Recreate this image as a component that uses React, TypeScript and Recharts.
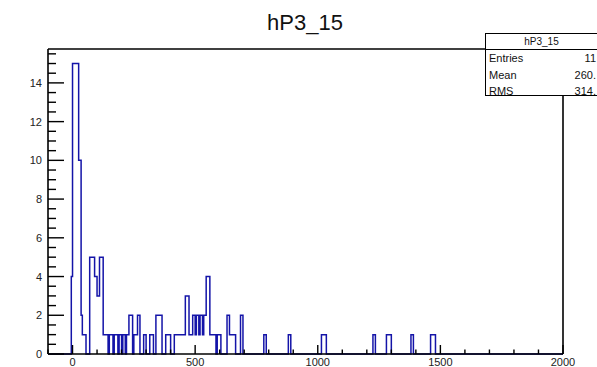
import React from "react";
import { LineChart, Line, XAxis, YAxis } from "recharts";

// hP3_15 outline: level the histogram steps to at each bin edge
const stepEdge = [
  -5, 0, 25, 35, 40, 55, 70, 90, 100, 110, 125, 145, 150, 165, 170, 185, 190,
  200, 205, 215, 220, 230, 245, 250, 265, 275, 290, 300, 315, 330, 340, 365,
  380, 400, 415, 460, 475, 490, 500, 505, 515, 520, 530, 535, 545, 560, 585,
  590, 605, 630, 640, 665, 685, 695, 780, 790, 880, 890, 1015, 1035, 1225,
  1235, 1280, 1300, 1380, 1390, 1460, 1480,
];
const stepLevel = [
  4, 15, 10, 2, 1, 0, 5, 4, 3, 5, 1, 0, 1, 0, 1, 0, 1, 0, 1, 0, 1, 2, 0, 1, 2,
  0, 1, 0, 1, 0, 2, 0, 1, 0, 1, 3, 1, 2, 1, 2, 1, 2, 1, 2, 4, 1, 0, 1, 0, 2, 1,
  0, 2, 0, 1, 0, 1, 0, 1, 0, 1, 0, 1, 0, 1, 0, 1, 0,
];

const xRange = [-100, 2000];
const yRange = [0, 15.75];
const xTicks = [
  -100, 0, 100, 200, 300, 400, 500, 600, 700, 800, 900, 1000, 1100, 1200,
  1300, 1400, 1500, 1600, 1700, 1800, 1900, 2000,
];
const xLabels = [0, 500, 1000, 1500, 2000];
const yTicks = [
  0, 0.5, 1, 1.5, 2, 2.5, 3, 3.5, 4, 4.5, 5, 5.5, 6, 6.5, 7, 7.5, 8, 8.5, 9,
  9.5, 10, 10.5, 11, 11.5, 12, 12.5, 13, 13.5, 14, 14.5, 15, 15.5,
];
const yLabels = [0, 2, 4, 6, 8, 10, 12, 14];

// stats box, as far as it shows before the page edge
const statNames = ["Entries", "Mean", "RMS"];
const statValues = ["11", "260.", "314."];

const rows = [
  { x: xRange[0], y: 0 },
  ...stepEdge.map((x, i) => ({ x, y: stepLevel[i] })),
  { x: xRange[1], y: 0 },
];

const FRAME = { stroke: "#000", strokeWidth: 1.6 };

function XTick(props: any) {
  const { x, y, payload } = props;
  const v = Number(payload.value);
  const major = xLabels.includes(v);
  const len = major ? 9 : 4.5;
  return (
    <g>
      <rect x={x - 0.7} y={y - len} width={1.4} height={len} fill="#000" />
      {major ? (
        <text x={x} y={y + 12} textAnchor="middle" fontSize={11} fill="#222">
          {v}
        </text>
      ) : null}
    </g>
  );
}

function YTick(props: any) {
  const { x, y, payload } = props;
  const v = Number(payload.value);
  const major = yLabels.includes(v);
  return (
    <g>
      <rect x={x} y={y - 0.7} width={major ? 16 : 8} height={1.4} fill="#000" />
      {major ? (
        <text x={x - 6} y={y + 4} textAnchor="end" fontSize={11} fill="#222">
          {v}
        </text>
      ) : null}
    </g>
  );
}

export default function App() {
  return (
    <div style={{ position: "relative", width: 597, height: 367, background: "#fff" }}>
      <style>{"body{margin:0;font-family:'Liberation Sans',Arial,sans-serif}"}</style>
      <LineChart width={597} height={367} data={rows} margin={{ top: 48, right: 33, bottom: 0, left: 0 }}>
        <XAxis
          dataKey="x"
          type="number"
          domain={xRange}
          ticks={xTicks}
          interval={0}
          height={13}
          tickSize={0}
          tickMargin={0}
          axisLine={FRAME}
          tickLine={false}
          tick={<XTick />}
        />
        <XAxis
          xAxisId="top"
          orientation="top"
          type="number"
          domain={xRange}
          height={1}
          tick={false}
          tickLine={false}
          axisLine={FRAME}
        />
        <YAxis
          type="number"
          domain={yRange}
          ticks={yTicks}
          interval={0}
          width={48}
          tickSize={0}
          tickMargin={0}
          axisLine={FRAME}
          tickLine={false}
          tick={<YTick />}
        />
        <YAxis
          yAxisId="right"
          orientation="right"
          type="number"
          domain={yRange}
          width={1}
          tick={false}
          tickLine={false}
          axisLine={FRAME}
        />
        <Line
          dataKey="y"
          type="stepAfter"
          stroke="#1414a8"
          strokeWidth={1.5}
          dot={false}
          isAnimationActive={false}
        />
      </LineChart>

      <div
        style={{
          position: "absolute",
          left: 0,
          width: 610,
          top: 12,
          fontSize: 22,
          lineHeight: "22px",
          textAlign: "center",
          color: "#111",
        }}
      >
        hP3_15
      </div>

      <div
        style={{
          position: "absolute",
          left: 485,
          top: 33,
          width: 111,
          height: 61,
          borderTop: "1px solid #000",
          borderLeft: "1px solid #000",
          borderBottom: "1px solid #000",
          background: "#fff",
          fontSize: 11,
          color: "#111",
        }}
      >
        <div
          style={{
            height: 15,
            lineHeight: "15px",
            borderBottom: "1px solid #000",
            textAlign: "center",
            fontSize: 10,
          }}
        >
          hP3_15
        </div>
        {statNames.map((name, i) => (
          <div key={name} style={{ position: "relative", height: 16.5, lineHeight: "16.5px" }}>
            <span style={{ position: "absolute", left: 3 }}>{name}</span>
            <span style={{ position: "absolute", right: 1 }}>{statValues[i]}</span>
          </div>
        ))}
      </div>
    </div>
  );
}
